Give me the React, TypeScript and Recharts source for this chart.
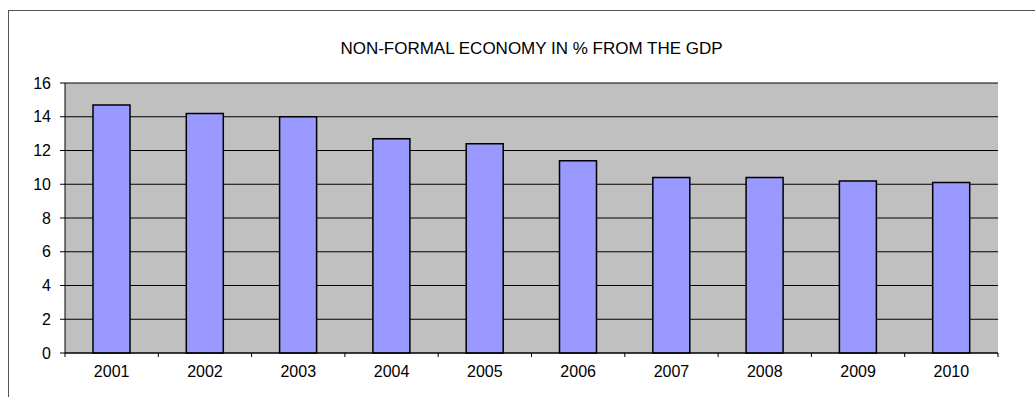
import React from 'react';
import { BarChart, Bar, XAxis, YAxis, CartesianGrid } from 'recharts';

const years = ['2001', '2002', '2003', '2004', '2005', '2006', '2007', '2008', '2009', '2010'];
const shares = [14.7, 14.2, 14.0, 12.7, 12.4, 11.4, 10.4, 10.4, 10.2, 10.1];
const yTicks = [0, 2, 4, 6, 8, 10, 12, 14, 16];

const CHART_W = 1026;
const CHART_H = 386;
const MARGIN = { top: 72, right: 37, left: 16, bottom: 14 };
const Y_AXIS_W = 40;
const PLOT_W = CHART_W - MARGIN.left - Y_AXIS_W - MARGIN.right;
const FONT = '"Liberation Sans", Arial, sans-serif';

const data = years.map((year, i) => ({ year, value: shares[i] }));

// category axis: labels in the middle, tick marks on the band edges
function YearTick(props: any) {
    const { x, y, payload, index } = props;
    const half = PLOT_W / years.length / 2;
    const axisY = y - 13;
    return (
        <g>
            <line x1={x - half} x2={x - half} y1={axisY} y2={axisY + 4} stroke="#000" />
            {index === years.length - 1 && (
                <line x1={x + half} x2={x + half} y1={axisY} y2={axisY + 4} stroke="#000" />
            )}
            <text x={x} y={y} dy="0.71em" textAnchor="middle" fontSize={16} fontFamily={FONT} fill="#000">
                {payload.value}
            </text>
        </g>
    );
}

export default function App() {
    return (
        <div
            style={{
                position: 'fixed',
                left: 8,
                top: 10,
                width: CHART_W,
                height: CHART_H,
                borderLeft: '1px solid #555',
                borderTop: '1px solid #555',
                background: '#fff',
                fontFamily: FONT,
            }}
        >
            <div
                style={{
                    position: 'absolute',
                    left: MARGIN.left + Y_AXIS_W,
                    width: PLOT_W,
                    top: 28,
                    textAlign: 'center',
                    fontSize: 17,
                    lineHeight: '19px',
                    color: '#000',
                }}
            >
                NON-FORMAL ECONOMY IN % FROM THE GDP
            </div>
            <BarChart width={CHART_W} height={CHART_H} data={data} margin={MARGIN}>
                <CartesianGrid vertical={false} stroke="#000" fill="#C0C0C0" fillOpacity={1} />
                <XAxis
                    dataKey="year"
                    tickLine={false}
                    axisLine={{ stroke: '#000' }}
                    tickSize={4}
                    tickMargin={9}
                    height={30}
                    interval={0}
                    tick={(p: any) => <YearTick {...p} />}
                />
                <XAxis
                    xAxisId="top"
                    dataKey="year"
                    orientation="top"
                    height={0}
                    tick={false}
                    tickLine={false}
                    axisLine={{ stroke: '#808080', strokeWidth: 2 }}
                />
                <YAxis
                    domain={[0, 16]}
                    ticks={yTicks}
                    interval={0}
                    width={Y_AXIS_W}
                    tickSize={5}
                    tickMargin={9}
                    axisLine={{ stroke: '#000' }}
                    tickLine={{ stroke: '#000' }}
                    tick={{ fontSize: 16, fontFamily: FONT, fill: '#000' }}
                />
                <YAxis
                    yAxisId="right"
                    orientation="right"
                    domain={[0, 16]}
                    width={0}
                    tick={false}
                    tickLine={false}
                    axisLine={{ stroke: '#808080', strokeWidth: 2 }}
                />
                <Bar dataKey="value" fill="#9999FF" stroke="#000" strokeWidth={1.5} barSize={37} isAnimationActive={false} />
            </BarChart>
        </div>
    );
}
